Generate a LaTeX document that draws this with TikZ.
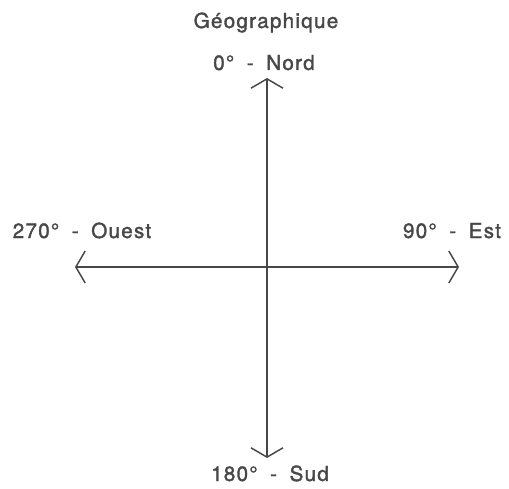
\documentclass[tikz,border=0pt]{standalone}
\usepackage{fontspec}
\setmainfont{TeX Gyre Heros}[LetterSpace=6,WordSpace=1.8,FakeBold=1.6]
\usetikzlibrary{arrows.meta}
\definecolor{ink}{gray}{0.28}
\tikzset{
  axis/.style={ink, line width=1.1pt, {Straight Barb[length=7pt,width=24pt]}-{Straight Barb[length=7pt,width=24pt]}},
  lbl/.style={ink, font=\fontsize{15.5}{18}\selectfont, inner sep=0pt, anchor=base}
}
\begin{document}
\begin{tikzpicture}[x=0.75pt,y=-0.75pt]
  \useasboundingbox (0,0) rectangle (509,488);
  % axes
  \coordinate (n) at (267,78);
  \coordinate (s) at (267,458);
  \coordinate (w) at (75,267);
  \coordinate (e) at (459,267);
  \draw[axis] (s) -- (n);
  \draw[axis] (w) -- (e);
  % labels (placed on their base lines)
  \node[lbl] (geo) at (266,28) {Géographique};
  \node[lbl] (nord) at (264,70) {0° - Nord};
  \node[lbl] (ouest) at (82,238) {270° - Ouest};
  \node[lbl] (est) at (452,238) {90° - Est};
  \node[lbl] (sud) at (270,481) {180° - Sud};
\end{tikzpicture}
\end{document}
